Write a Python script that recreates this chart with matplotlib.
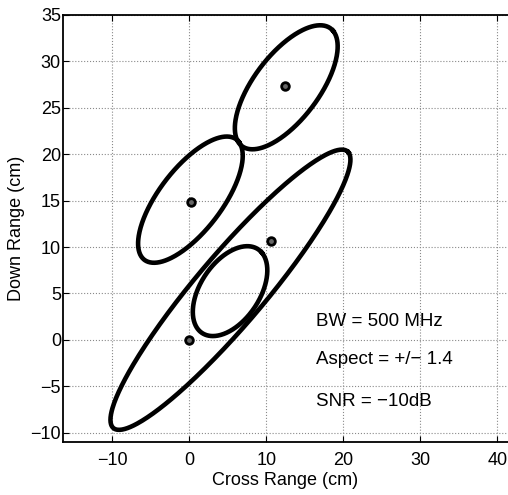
import numpy as np
import matplotlib
matplotlib.use('Agg')
import matplotlib.pyplot as plt

plt.rcParams['font.family'] = ['Liberation Sans', 'DejaVu Sans']

# 误差椭圆参数（中心、半长轴、半短轴、倾角）
ell_cx = [12.6, 0.15, 5.35, 5.3]
ell_cy = [27.2, 15.1, 5.4, 5.25]
ell_a = [8.6, 8.85, 21.3, 5.85]
ell_b = [3.9, 3.75, 4.1, 3.55]
ell_angle = [45, 45, 44, 45]

# 目标点
target_x = [12.5, 0.2, 10.6, 0.0]
target_y = [27.3, 14.9, 10.6, 0.0]

x_ticks = [-10, 0, 10, 20, 30, 40]
y_ticks = [-10, -5, 0, 5, 10, 15, 20, 25, 30, 35]

notes = ['BW = 500 MHz', 'Aspect = +/\u2212 1.4', 'SNR = \u221210dB']
note_y = [2.0, -2.1, -6.6]

fig = plt.figure(figsize=(5.08, 4.95), dpi=100)
ax = fig.add_axes([0.124, 0.107, 0.876, 0.863])

t = np.linspace(0, 2 * np.pi, 400)
for cx, cy, a, b, ang in zip(ell_cx, ell_cy, ell_a, ell_b, ell_angle):
    th = np.deg2rad(ang)
    u = a * np.cos(t)
    v = b * np.sin(t)
    ax.plot(cx + u * np.cos(th) - v * np.sin(th),
            cy + u * np.sin(th) + v * np.cos(th),
            color='black', lw=3.3)

ax.plot(target_x, target_y, 'o', ms=5.5, mfc='#666666', mec='black', mew=2, ls='none')

for s, y in zip(notes, note_y):
    ax.text(16.4, y, s, fontsize=13.5, va='center', ha='left')

ax.set_xlim(-16.4, 41.4)
ax.set_ylim(-11, 35)
ax.set_xticks(x_ticks)
ax.set_yticks(y_ticks)
ax.tick_params(direction='in', length=4, labelsize=13, top=True)
ax.tick_params(axis='x', pad=7)
ax.tick_params(axis='y', pad=1.5)
ax.grid(True, ls=':', color='#8a8a8a', lw=0.8)
ax.spines['right'].set_visible(False)
for sp in ['left', 'bottom', 'top']:
    ax.spines[sp].set_linewidth(1.3)

ax.set_xlabel('Cross Range (cm)', fontsize=13, labelpad=2)
ax.set_ylabel('Down Range (cm)', fontsize=13, labelpad=4)

fig.savefig('out.png', dpi=100)
